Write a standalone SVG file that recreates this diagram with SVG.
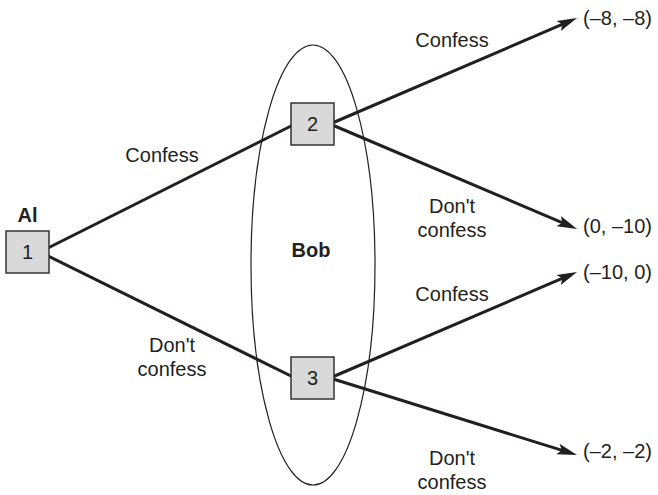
<svg xmlns="http://www.w3.org/2000/svg" width="658" height="495" viewBox="0 0 658 495">
<style>
text{font-family:"Liberation Sans",Arial,sans-serif;font-size:20px;fill:#231f20}
.b{font-weight:bold}
.m{text-anchor:middle}
.box{fill:#d9d9d9;stroke:#333;stroke-width:1.5}
.edge{stroke:#231f20;stroke-width:3;fill:none}
</style>
<defs>
<marker id="ah" markerUnits="userSpaceOnUse" markerWidth="22" markerHeight="12" refX="12" refY="6" orient="auto">
<path d="M0,0.5 L20,6 L0,11.5 L4,6 Z" fill="#231f20"/>
</marker>
</defs>
<ellipse id="infoset" cx="313" cy="265" rx="62" ry="220" fill="none" stroke="#231f20" stroke-width="1.2"/>
<g id="connectors">
<line class="edge" x1="40" y1="252" x2="295" y2="124"/>
<line class="edge" x1="40" y1="252" x2="295" y2="378"/>
<line class="edge" x1="330" y1="124" x2="569.7" y2="21.2" marker-end="url(#ah)"/>
<line class="edge" x1="330" y1="124" x2="569.7" y2="225.8" marker-end="url(#ah)"/>
<line class="edge" x1="330" y1="378" x2="569.7" y2="275.2" marker-end="url(#ah)"/>
<line class="edge" x1="330" y1="378" x2="569.4" y2="452.6" marker-end="url(#ah)"/>
</g>
<g id="n1">
<text class="b m" x="27.5" y="222">Al</text>
<rect class="box" x="6" y="231" width="43" height="42"/>
<text class="m" x="27.5" y="259">1</text>
</g>
<g id="n2">
<rect class="box" x="291" y="103" width="43" height="42"/>
<text class="m" x="312.5" y="131">2</text>
</g>
<g id="n3">
<rect class="box" x="291" y="357" width="43" height="42"/>
<text class="m" x="312.5" y="385">3</text>
</g>
<g id="labels">
<text class="b m" x="311" y="257">Bob</text>
<text class="m" x="162" y="162">Confess</text>
<text class="m" x="172" y="352">Don't</text>
<text class="m" x="172" y="376">confess</text>
<text class="m" x="452" y="47">Confess</text>
<text class="m" x="452" y="213">Don't</text>
<text class="m" x="452" y="237">confess</text>
<text class="m" x="452" y="301">Confess</text>
<text class="m" x="452" y="465">Don't</text>
<text class="m" x="452" y="489">confess</text>
<text x="583" y="25">(–8, –8)</text>
<text x="583" y="233">(0, –10)</text>
<text x="583" y="279">(–10, 0)</text>
<text x="583" y="458">(–2, –2)</text>
</g>
</svg>
